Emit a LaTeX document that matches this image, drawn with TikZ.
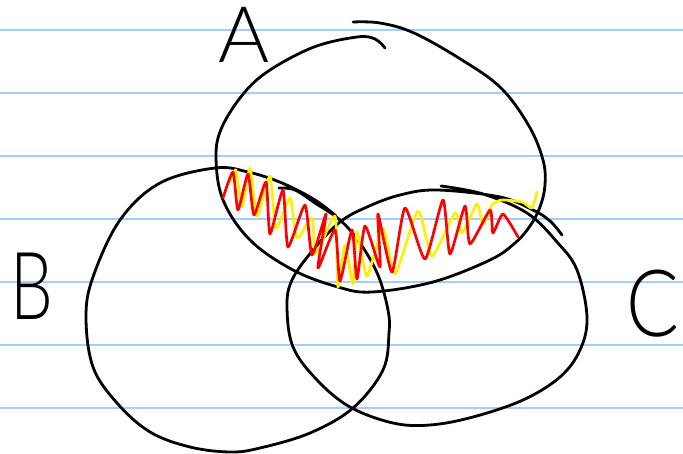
\documentclass[tikz,border=0pt]{standalone}
\usepackage{fontspec}
\newfontfamily\handfont{Lato Light}
\definecolor{heft}{HTML}{A3CEFB}
\definecolor{rotst}{HTML}{FF0000}
\definecolor{gelbst}{HTML}{FFF000}
\tikzset{
  linie/.style={heft,line width=2pt},
  stift/.style={black,line width=2.8pt,line cap=round,line join=round},
  kritzel/.style={line width=2.7pt,line cap=round,line join=round},
  buchst/.style={inner sep=0pt,black},
}

\begin{document}
\begin{tikzpicture}[x=1pt,y=-1pt]
  \useasboundingbox (0,0) rectangle (683,454);
  \foreach \y in {30,93,156,219,282,345,408}{
    \draw[linie] (0,\y)--(683,\y);}
  \draw[stift] plot[smooth,tension=0.6] coordinates {(353,22) (380,23) (414,33) (462,60) (501,88) (529,126) (543,160) (545,185) (540,207) (530,226) (515,243) (490,260) (433,282) (372,292) (338,287) (293,270) (250,240) (223,200) (216,157) (222,127) (244,93) (270,70) (314,47) (357,37) (375,39) (385,48)};
  \draw[stift] plot[smooth,tension=0.6] coordinates {(279,188) (295,190) (315,203) (340,220) (360,243) (378,275) (388,310) (389,333) (383,370) (353,408) (310,433) (260,448) (230,452) (190,447) (150,432) (117,403) (93,367) (86,317) (93,277) (120,220) (160,183) (215,168) (248,172) (282,183) (315,200) (336,216)};
  \draw[stift] plot[smooth,tension=0.6] coordinates {(441,186) (483,194) (527,213) (557,242) (577,270) (587,317) (580,350) (560,377) (523,400) (473,417) (430,425) (393,423) (350,407) (317,380) (293,347) (287,307) (292,280) (313,250) (340,222) (367,207) (400,195) (437,190) (500,197) (533,210) (550,221) (562,235)};
  \draw[kritzel,gelbst] plot[smooth,tension=0.35] coordinates {(230,182) (236,170) (242,207) (250,168) (257,216) (270,176) (276,228) (290,198) (297,238) (312,218) (316,254) (335,216) (338,287) (345,245) (353,284) (357,232) (367,276) (383,228) (395,274) (418,211) (432,256) (455,213) (462,233) (477,204) (483,225) (492,205) (502,200) (522,202) (532,208) (537,192)};
  \draw[kritzel,rotst] plot[smooth,tension=0.35] coordinates {(223,198) (233,172) (238,210) (248,174) (254,215) (266,182) (270,234) (283,190) (288,247) (305,205) (312,255) (326,214) (318,268) (335,230) (340,281) (352,230) (357,279) (365,226) (380,267) (378,214) (392,272) (405,208) (425,259) (443,200) (450,254) (465,206) (470,244) (490,210) (493,233) (503,214) (518,237)};
  \node[buchst,font=\handfont\fontsize{78}{78}\selectfont] (labA) at (244,35) {A};
  \node[buchst,font=\handfont\fontsize{94}{94}\selectfont] (labB) at (32,286) {\scalebox{0.72}[1]{B}};
  \node[buchst,font=\handfont\fontsize{93}{93}\selectfont] (labC) at (653,304) {\scalebox{0.84}[1]{C}};
\end{tikzpicture}
\end{document}
